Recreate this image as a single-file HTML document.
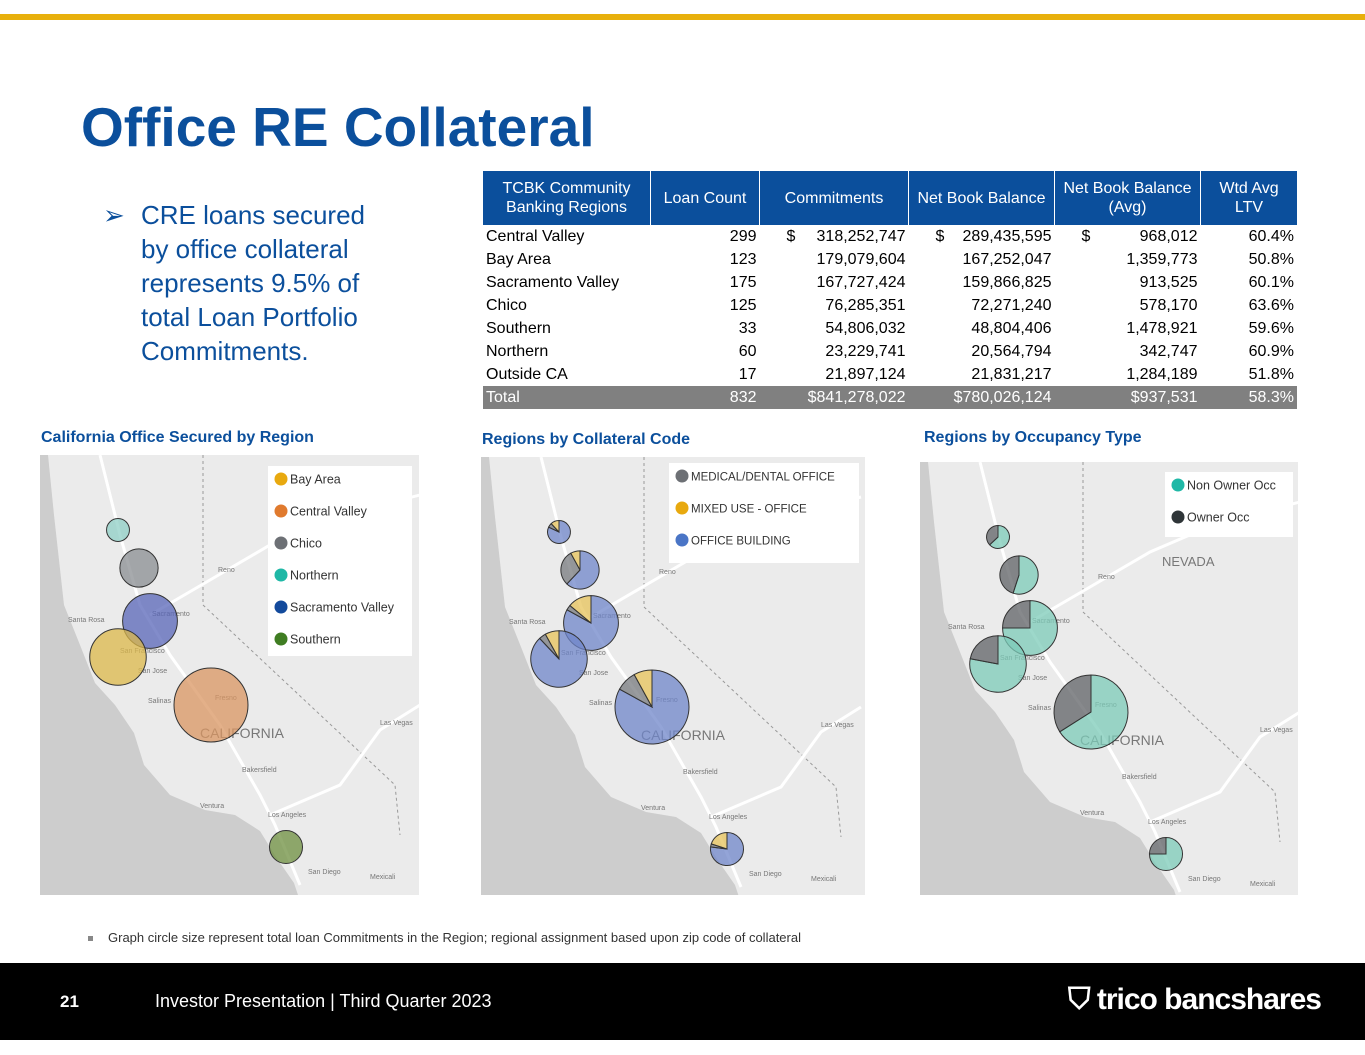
<!DOCTYPE html>
<html><head><meta charset="utf-8">
<style>
body{margin:0;width:1365px;height:1055px;position:relative;overflow:hidden;background:#fff;font-family:"Liberation Sans",sans-serif;}
.abs{position:absolute;}
#tbl{position:absolute;left:483px;top:171px;width:814px;border-collapse:collapse;font-size:16px;color:#000;}
#tbl th{background:#0b4f9c;color:#fff;font-weight:normal;height:54px;line-height:19px;border-left:1px solid #fff;padding:0 2px;}
#tbl th:first-child{border-left:none}
#tbl td{height:23px;padding:0 3px;text-align:right;white-space:nowrap}
#tbl td:first-child{text-align:left}
#tbl tr.total td{background:#808080;color:#fff;height:23px}
.ptitle{position:absolute;top:429px;font-size:16px;font-weight:bold;color:#0b4f9c}
</style></head><body>
<div class="abs" style="left:0;top:14px;width:1365px;height:6px;background:#e8b00c"></div>
<div class="abs" style="left:81px;top:95px;font-size:55px;font-weight:bold;color:#0b4f9c">Office RE Collateral</div>
<div class="abs" style="left:103px;top:198px;font-size:26px;line-height:34px;color:#0b4f9c;width:290px">
<span style="position:absolute;left:0;top:0">➢</span>
<div style="margin-left:38px">CRE loans secured by office collateral represents 9.5% of total Loan Portfolio Commitments.</div></div>
<table id="tbl"></table>
<div class="ptitle" style="left:41px">California Office Secured by Region</div>
<div class="ptitle" style="left:482px;top:431px">Regions by Collateral Code</div>
<div class="ptitle" style="left:924px">Regions by Occupancy Type</div>
<svg id="maps" class="abs" style="left:0;top:0" width="1365" height="1055"></svg>
<div class="abs" style="left:88px;top:930px;font-size:13px;color:#333"><span style="display:inline-block;width:5px;height:5px;background:#888;margin-right:15px;vertical-align:middle"></span>Graph circle size represent total loan Commitments in the Region; regional assignment based upon zip code of collateral</div>
<div class="abs" style="left:0;top:963px;width:1365px;height:77px;background:#000"></div>
<div class="abs" style="left:60px;top:992px;color:#fff;font-size:17px;font-weight:bold">21</div>
<div class="abs" style="left:155px;top:991px;color:#fff;font-size:18px">Investor Presentation | Third Quarter 2023</div>
<div class="abs" style="left:1068px;top:983px;color:#fff;font-size:30px;font-weight:bold;letter-spacing:-1px">⛉ trico bancshares</div>
<script>
const regions=["Central Valley","Bay Area","Sacramento Valley","Chico","Southern","Northern","Outside CA"];
const loanCount=[299,123,175,125,33,60,17];
const commitments=[318252747,179079604,167727424,76285351,54806032,23229741,21897124];
const netBook=[289435595,167252047,159866825,72271240,48804406,20564794,21831217];
const netBookAvg=[968012,1359773,913525,578170,1478921,342747,1284189];
const ltv=[60.4,50.8,60.1,63.6,59.6,60.9,51.8];
const totals=["832","$841,278,022","$780,026,124","$937,531","58.3%"];
const fmt=n=>n.toLocaleString('en-US');
const t=document.getElementById('tbl');
let h='<tr><th style="width:163px">TCBK Community<br>Banking Regions</th><th style="width:104px">Loan Count</th><th style="width:144px">Commitments</th><th style="width:141px">Net Book Balance</th><th style="width:141px">Net Book Balance<br>(Avg)</th><th>Wtd Avg<br>LTV</th></tr>';
regions.forEach((r,i)=>{const d=i==0?'<span style="float:left;margin-left:24px">$</span>':'';
h+=`<tr><td>${r}</td><td>${loanCount[i]}</td><td>${d}${fmt(commitments[i])}</td><td>${d}${fmt(netBook[i])}</td><td>${d}${fmt(netBookAvg[i])}</td><td>${ltv[i].toFixed(1)}%</td></tr>`;});
h+='<tr class="total"><td>Total</td>'+totals.map(v=>'<td>'+v+'</td>').join('')+'</tr>';
t.innerHTML=h;

const mapRegions=["Northern","Chico","Sacramento Valley","Bay Area","Central Valley","Southern"];
const mapCommit=[23229741,76285351,167727424,179079604,318252747,54806032];
const colors1=["#8fcfc6","#8a8d92","#5865b8","#dcb84a","#d99561","#6e8f3f"];
const officeShare=[0.82,0.62,0.83,0.88,0.83,0.77];
const medicalShare=[0.06,0.30,0.03,0.04,0.09,0.03];
const mixedShare=[0.12,0.08,0.14,0.08,0.08,0.20];
const nonOwnerShare=[0.63,0.55,0.75,0.78,0.66,0.75];
const ownerShare=[0.37,0.45,0.25,0.22,0.34,0.25];
const geo=[[78,75],[99,113],[110,166],[78,202],[171,250],[246,392]];
const panels=[[40,455,379,440],[481,457,384,438],[920,462,378,433]];
const rScale=v=>2+35*Math.sqrt(v/commitments[0]);
const svg=document.getElementById('maps');const NS='http://www.w3.org/2000/svg';
function el(tag,a,p){const e=document.createElementNS(NS,tag);for(const k in a)e.setAttribute(k,a[k]);(p||svg).appendChild(e);return e;}
const ocean="0,0 8,0 14,60 24,150 40,190 55,228 75,250 94,278 104,310 130,340 165,355 195,360 220,376 236,402 254,428 258,440 0,440";
const cities=[["Reno",178,117],["Santa Rosa",28,167],["Sacramento",112,161],["San Francisco",80,198],["San Jose",98,218],["Salinas",108,248],["Fresno",175,245],["Las Vegas",340,270],["Bakersfield",202,317],["Ventura",160,353],["Los Angeles",228,362],["San Diego",268,419],["Mexicali",330,424]];
function arc(g,cx,cy,r,a0,a1,fill){
 if(a1-a0>=0.9999){return el('circle',{cx,cy,r,fill,stroke:'#333','stroke-width':1,'fill-opacity':0.75},g);}
 const p=a=>[cx+r*Math.sin(a*2*Math.PI),cy-r*Math.cos(a*2*Math.PI)];
 const [x0,y0]=p(a0),[x1,y1]=p(a1);
 return el('path',{d:`M${cx},${cy}L${x0},${y0}A${r},${r} 0 ${a1-a0>0.5?1:0} 1 ${x1},${y1}Z`,fill,stroke:'#333','stroke-width':1,'fill-opacity':0.75},g);
}
panels.forEach((pn,pi)=>{
 const [px,py,pw,ph]=pn;
 const g=el('g',{transform:`translate(${px},${py})`});
 
 
 el('clipPath',{id:'cp'+pi},g).appendChild(Object.assign(document.createElementNS(NS,'rect'),{}));
 g.lastChild.firstChild.setAttribute('width',pw);g.lastChild.firstChild.setAttribute('height',ph);
 const gg=el('g',{'clip-path':`url(#cp${pi})`},g);
 el('rect',{x:0,y:0,width:pw,height:ph,fill:'#ebebeb'},gg);
 el('polygon',{points:ocean,fill:'#cdcdcd'},gg);
 el('polyline',{points:"163,0 163,150 355,330 360,380",fill:'none',stroke:'#999','stroke-dasharray':'3,3','stroke-width':1},gg);
 el('path',{d:"M60,0 L80,80 L100,150 L130,200 L180,270 L220,340 L235,370 L260,430",fill:'none',stroke:'#fff','stroke-width':3},gg);
 el('path',{d:"M110,160 L170,125 L230,90 L300,60 L380,40",fill:'none',stroke:'#fff','stroke-width':3},gg);
 el('path',{d:"M230,360 L300,330 L340,275 L380,250",fill:'none',stroke:'#fff','stroke-width':3},gg);
 cities.forEach(c=>{const tx=el('text',{x:c[1],y:c[2],'font-size':7,fill:'#777','font-family':'Liberation Sans'},gg);tx.textContent=c[0];});
 const ca=el('text',{x:160,y:283,'font-size':14,fill:'#777','font-family':'Liberation Sans'},gg);ca.textContent='CALIFORNIA';
 if(pi==2){const nv=el('text',{x:242,y:104,'font-size':13,fill:'#777','font-family':'Liberation Sans'},gg);nv.textContent='NEVADA';}
 mapRegions.forEach((rn,i)=>{
  const [cx,cy]=geo[i];const r=rScale(mapCommit[i]);
  let m;
  if(pi==0){m=el('circle',{cx,cy,r,fill:colors1[i],'fill-opacity':0.75,stroke:'#333','stroke-width':1},gg);}
  else if(pi==1){const a=officeShare[i],b=a+medicalShare[i],c=b+mixedShare[i];
   const sg=el('g',{},gg);
   arc(sg,cx,cy,r,0,a,'#6f86c9');arc(sg,cx,cy,r,a,b,'#77797d');arc(sg,cx,cy,r,b,c,'#e7c35a');}
  else{const a=nonOwnerShare[i],b=a+ownerShare[i];
   const sg=el('g',{},gg);
   arc(sg,cx,cy,r,0,a,'#7ccbb8');arc(sg,cx,cy,r,a,b,'#5f6266');}
 });
 let items,lx,ly,lw,lh;
 if(pi==0){items=[["Bay Area","#e8a90f"],["Central Valley","#e07a2e"],["Chico","#6d7075"],["Northern","#1fb8a6"],["Sacramento Valley","#134a9c"],["Southern","#3f7d22"]];lx=228;ly=11;lw=144;lh=190;}
 else if(pi==1){items=[["MEDICAL/DENTAL OFFICE","#6d7075"],["MIXED USE - OFFICE","#e8a90f"],["OFFICE BUILDING","#4a75c6"]];lx=188;ly=6;lw=190;lh=100;}
 else{items=[["Non Owner Occ","#1fb8a6"],["Owner Occ","#2f3538"]];lx=245;ly=10;lw=128;lh=65;}
 const lg=el('g',{},gg);
 el('rect',{x:lx,y:ly,width:lw,height:lh,fill:'#fff'},lg);
 items.forEach((it,k)=>{const yy=ly+13+k*32;
  el('circle',{cx:lx+13,cy:yy,r:6.5,fill:it[1]},lg);
  const tx=el('text',{x:lx+22,y:yy+4.5,'font-size':pi==1?11.5:12.5,fill:'#333','font-family':'Liberation Sans'},lg);tx.textContent=it[0];});
});
</script>
</body></html>
